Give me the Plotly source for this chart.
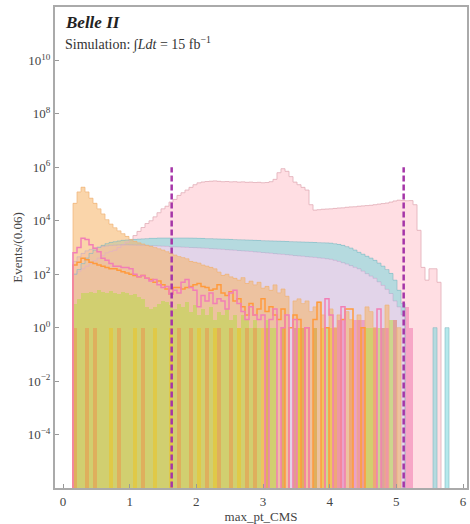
import plotly.graph_objects as go

# ---------------- data ----------------
bin_width = 0.06
first_edge = 0.15
n_bins = 95
bin_edges = [round(first_edge + bin_width * i, 4) for i in range(n_bins + 1)]
bin_centers = [round(first_edge + bin_width * (i + 0.5), 4) for i in range(n_bins)]

pink_fill = [
    100, 130, 160, 200, 250, 320, 400, 500, 630, 710,
    790, 1000, 1260, 1580, 2000, 2800, 4000, 5600, 7900, 10000,
    14000, 20000, 28000, 35000, 50000, 63000, 89000, 112000, 141000, 178000,
    224000, 263000, 282000, 295000, 302000, 310000, 300000, 290000, 295000, 285000,
    290000, 280000, 285000, 275000, 280000, 270000, 275000, 265000, 270000, 290000,
    355000, 630000, 890000, 710000, 450000, 280000, 224000, 178000, 141000, 40000,
    25000, 26000, 27000, 27500, 28000, 29000, 30000, 30500, 32000, 33000,
    33500, 35000, 36000, 37000, 38000, 40000, 42000, 44000, 46000, 50000,
    55000, 59000, 58000, 56000, 57000, 40000, 4400, 180, 60, 160,
    160, 50, 0, 0, 0]

cyan_fill = [
    100, 150, 250, 400, 600, 800, 1000, 1200, 1400, 1550,
    1650, 1750, 1850, 1900, 1950, 2000, 2050, 2100, 2150, 2200,
    2200, 2250, 2250, 2250, 2250, 2250, 2250, 2250, 2250, 2240,
    2230, 2200, 2180, 2150, 2150, 2100, 2080, 2050, 2030, 2000,
    1980, 1950, 1930, 1900, 1880, 1850, 1830, 1800, 1780, 1760,
    1740, 1720, 1700, 1680, 1660, 1640, 1620, 1600, 1580, 1560,
    1540, 1520, 1500, 1480, 1450, 1380, 1300, 1200, 1080, 950,
    800, 660, 560, 470, 400, 330, 260, 200, 150, 107,
    60, 25, 8, 0, 0, 0, 0, 0, 0, 0,
    1, 0, 0, 1, 0]

lavender_fill = [
    300, 450, 600, 750, 850, 950, 1050, 1100, 1150, 1200,
    1220, 1250, 1260, 1260, 1250, 1240, 1230, 1220, 1200, 1180,
    1160, 1140, 1120, 1100, 1080, 1060, 1050, 1030, 1010, 1000,
    990, 970, 950, 930, 910, 890, 870, 850, 830, 810,
    790, 770, 750, 730, 710, 690, 670, 650, 630, 610,
    590, 570, 555, 540, 520, 500, 485, 470, 455, 440,
    425, 410, 395, 380, 360, 330, 300, 270, 240, 210,
    180, 160, 130, 105, 85, 70, 52, 38, 27, 19,
    10, 6, 3, 0, 0, 0, 0, 0, 0, 0,
    0, 0, 0, 0, 0]

orange_fill = [
    45000, 120000, 180000, 120000, 70000, 45000, 28000, 18000, 11000, 7500,
    5500, 4200, 3300, 2600, 2000, 1700, 1500, 1350, 1200, 1100,
    1000, 900, 800, 700, 600, 520, 460, 420, 380, 300,
    280, 260, 220, 200, 180, 160, 120, 90, 100, 80,
    70, 60, 75, 45, 55, 40, 50, 30, 35, 25,
    40, 20, 28, 15, 0, 10, 12, 8, 10, 4,
    6, 9, 3, 0, 5, 1, 3, 0, 4, 2,
    0, 3, 0, 6, 4, 1, 0, 0, 7, 0,
    0, 1, 0, 0, 0, 0, 0, 0, 0, 0,
    0, 0, 0, 0, 0]

olive_fill = [
    8, 12, 20, 20, 22, 20, 25, 22, 20, 24,
    20, 18, 22, 20, 16, 18, 14, 12, 6, 5,
    6, 8, 10, 9, 7, 5, 8, 6, 9, 4,
    7, 3, 5, 3, 6, 2, 4, 3, 5, 2,
    3, 1, 3, 2, 1, 2, 1, 0, 2, 1,
    1, 0, 1, 0, 0, 1, 1, 1, 0, 0,
    1, 0, 0, 1, 0, 0, 0, 0, 0, 0,
    0, 0, 0, 1, 1, 0, 1, 1, 0, 2,
    2, 0, 0, 0, 0, 0, 0, 0, 0, 0,
    0, 0, 0, 0, 0]

salmon_fill = [
    1, 0, 0, 1, 0, 1, 0, 0, 0, 0,
    0, 1, 0, 0, 0, 0, 0, 1, 0, 0,
    0, 0, 0, 0, 0, 0, 1, 0, 0, 1,
    0, 0, 0, 1, 0, 0, 1, 0, 0, 1,
    0, 0, 0, 1, 0, 1, 0, 0, 1, 0,
    0, 0, 1, 0, 0, 0, 0, 1, 0, 0,
    1, 0, 0, 0, 0, 1, 0, 0, 0, 1,
    0, 0, 0, 0, 0, 1, 0, 0, 0, 0,
    0, 0, 0, 0, 0, 0, 0, 0, 0, 0,
    0, 0, 0, 0, 0]

yellow_fill = [
    0, 0, 0, 0, 0, 0, 0, 0, 0, 1,
    0, 0, 0, 0, 0, 1, 0, 0, 0, 0,
    1, 0, 0, 0, 1, 0, 0, 0, 0, 0,
    0, 1, 0, 0, 0, 1, 0, 0, 0, 0,
    0, 1, 0, 0, 0, 0, 0, 1, 0, 0,
    0, 0, 0, 0, 0, 0, 1, 0, 0, 0,
    0, 0, 1, 0, 1, 0, 0, 0, 0, 0,
    0, 0, 1, 0, 0, 0, 0, 0, 0, 0,
    0, 0, 0, 0, 0, 0, 0, 0, 0, 0,
    0, 0, 0, 0, 0]

magenta_fill = [
    0, 0, 0, 0, 0, 0, 0, 0, 0, 0,
    0, 0, 0, 0, 0, 0, 0, 0, 0, 0,
    0, 0, 0, 0, 0, 0, 0, 0, 0, 0,
    0, 0, 0, 0, 0, 0, 0, 0, 0, 0,
    0, 0, 0, 0, 0, 0, 0, 0, 0, 0,
    0, 0, 0, 0, 0, 1, 0, 0, 0, 0,
    0, 0, 0, 0, 0, 0, 2, 2, 0, 0,
    2, 2, 2, 0, 0, 0, 0, 1, 1, 0,
    2, 0, 0, 6, 1, 0, 0, 0, 0, 0,
    0, 0, 0, 0, 0]

orange_line = [
    220, 280, 400, 350, 280, 250, 220, 200, 180, 160,
    160, 140, 125, 110, 100, 90, 80, 90, 70, 63,
    50, 56, 40, 28, 18, 32, 32, 28, 32, 35,
    40, 45, 35, 32, 25, 28, 40, 20, 16, 22,
    10, 12, 6, 3, 8, 3, 5, 12, 4, 6,
    3, 2, 5, 0, 1, 3, 2, 0, 1, 0,
    2, 9, 0, 1, 0, 0, 0, 2, 5, 5,
    0, 0, 1, 0, 0, 0, 0, 0, 0, 0,
    0, 0, 0, 0, 0, 0, 0, 0, 0, 0,
    0, 0, 0, 0, 0]

pink_line = [
    630, 1000, 2200, 2000, 1260, 930, 700, 400, 330, 250,
    200, 200, 180, 180, 160, 100, 80, 90, 70, 56,
    63, 40, 32, 35, 18, 25, 20, 50, 63, 32,
    25, 6, 16, 10, 20, 8, 12, 10, 5, 20,
    25, 8, 4, 2, 6, 3, 2, 3, 0, 2,
    5, 0, 1, 3, 0, 2, 0, 0, 1, 0,
    0, 0, 0, 12, 3, 0, 0, 6, 0, 0,
    0, 0, 0, 0, 0, 0, 5, 0, 0, 0,
    0, 0, 0, 0, 0, 0, 0, 0, 0, 0,
    0, 0, 0, 0, 0]

cut_positions = [1.63, 5.11]
cut_top = 1e6

y_tick_vals = [1e-4, 1e-2, 1e0, 1e2, 1e4, 1e6, 1e8, 1e10]
y_tick_text = ["10<sup>−4</sup>", "10<sup>−2</sup>", "10<sup>0</sup>", "10<sup>2</sup>",
               "10<sup>4</sup>", "10<sup>6</sup>", "10<sup>8</sup>", "10<sup>10</sup>"]
x_tick_vals = [0, 1, 2, 3, 4, 5, 6]

FLOOR = 1e-8  # empty bins drawn down past the axis bottom

# ---------------- figure ----------------
fig = go.Figure()


def add_bars(vals, color):
    fig.add_trace(go.Bar(
        x=bin_centers, y=[v if v > 0 else None for v in vals], width=bin_width,
        marker=dict(color=color, line=dict(width=0)), hoverinfo="skip"))


def add_step(vals, color, width):
    xs = [bin_edges[0]] + bin_edges
    ys = [FLOOR] + [v if v > 0 else FLOOR for v in vals] + [FLOOR]
    fig.add_trace(go.Scatter(
        x=xs, y=ys, mode="lines", line=dict(color=color, width=width, shape="hv"),
        hoverinfo="skip"))


add_step(pink_fill, "rgba(228,180,188,0.9)", 1)
add_bars(pink_fill, "rgba(255,182,193,0.45)")
add_step(cyan_fill, "rgba(130,185,195,0.6)", 1)
add_bars(cyan_fill, "rgba(120,215,220,0.55)")
add_step(lavender_fill, "rgba(190,170,205,0.5)", 1)
add_bars(lavender_fill, "rgba(245,209,237,0.7)")
add_step(orange_fill, "rgba(240,180,120,0.7)", 1)
add_bars(orange_fill, "rgba(245,178,100,0.55)")
add_bars(olive_fill, "rgba(190,215,80,0.6)")
add_bars(salmon_fill, "rgba(240,135,70,0.45)")
add_bars(yellow_fill, "rgba(240,195,30,0.5)")
add_bars(magenta_fill, "rgba(240,110,170,0.5)")
add_step(orange_line, "#ff9a3c", 1.5)
add_step(pink_line, "#f27fb5", 1.5)

for c in cut_positions:
    fig.add_trace(go.Scatter(
        x=[c, c], y=[FLOOR, cut_top], mode="lines",
        line=dict(color="#a535a8", width=2.5, dash="6px,3px"), hoverinfo="skip"))

axis_font = dict(family="Liberation Serif", size=13, color="#444")
fig.update_layout(
    width=470, height=524,
    margin=dict(l=55, r=3, t=7, b=36),
    paper_bgcolor="white", plot_bgcolor="white",
    barmode="overlay", bargap=0, showlegend=False,
    font=dict(family="Liberation Serif", color="#444"),
    xaxis=dict(range=[-0.12, 6.06], tickvals=x_tick_vals, ticks="inside", ticklen=4,
               tickcolor="#999", showline=True, linecolor="#aaa", linewidth=2, mirror=True,
               showgrid=False, zeroline=False, tickfont=axis_font, automargin=False,
               title=dict(text="max_pt_CMS", font=dict(family="Liberation Serif", size=13, color="#444"),
                          standoff=2)),
    yaxis=dict(type="log", range=[-6, 12], tickvals=y_tick_vals, ticktext=y_tick_text,
               ticks="inside", ticklen=4, tickcolor="#999", showline=True, linecolor="#aaa",
               linewidth=2, mirror=True, showgrid=False, zeroline=False, automargin=False,
               tickfont=dict(family="Liberation Serif", size=13, color="#444"),
               title=dict(text="Events/(0.06)", font=dict(family="Liberation Serif", size=13, color="#444"),
                          standoff=2)),
)

fig.add_annotation(xref="paper", yref="paper", x=0.019, y=0.967, xanchor="left", yanchor="middle",
                   text="<b><i>Belle II</i></b>", showarrow=False,
                   font=dict(family="Liberation Serif", size=17, color="#222"))
fig.add_annotation(xref="paper", yref="paper", x=0.019, y=0.925, xanchor="left", yanchor="middle",
                   text="Simulation: ∫<i>Ldt</i> = 15 fb<sup>−1</sup>", showarrow=False,
                   font=dict(family="Liberation Serif", size=14, color="#333"))

fig.write_html("out.html", config={"displayModeBar": False},
               post_script="document.body.style.margin='0px';")
